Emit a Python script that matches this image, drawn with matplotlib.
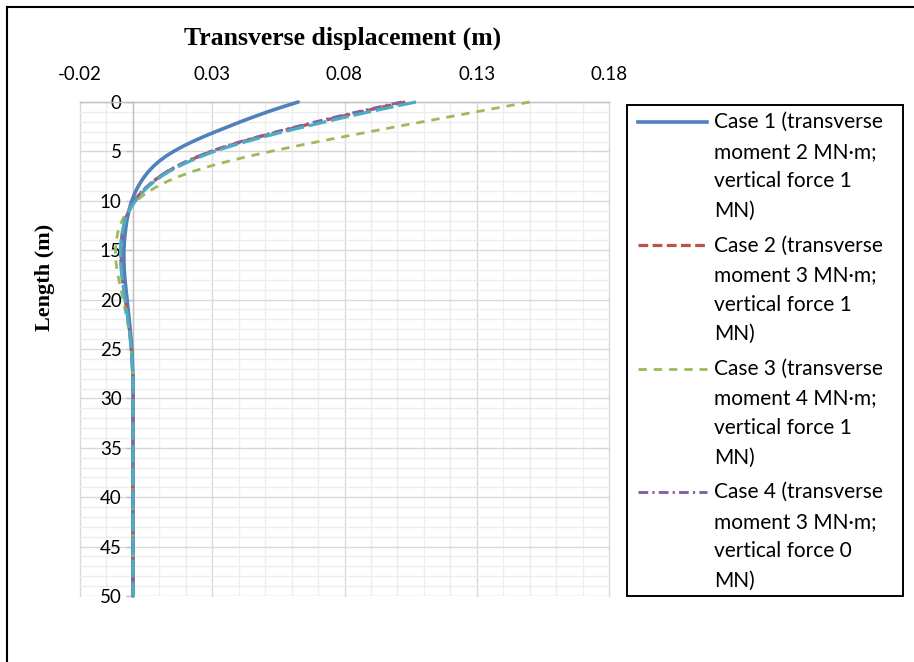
import matplotlib
matplotlib.use("Agg")
import numpy as np
import matplotlib.pyplot as plt
from matplotlib.lines import Line2D
from matplotlib.patches import Rectangle
from matplotlib.ticker import FixedLocator, MultipleLocator

plt.rcParams["lines.scale_dashes"] = False

# Depth along the pile (m)
depth = [0, 0.5, 1, 1.5, 2, 2.5, 3, 3.5, 4, 4.5, 5, 5.5, 6, 6.5, 7, 7.5, 8, 8.5, 9, 9.5,
         10, 10.5, 11, 11.5, 12, 13, 14, 15, 16, 17, 18, 19, 20, 22, 24, 26, 28, 30,
         35, 40, 45, 50]

# Transverse displacement (m) for each load case
case1 = [0.0625, 0.0565, 0.0509, 0.0457, 0.0407, 0.0360, 0.0313, 0.0268, 0.0226, 0.0188,
         0.0154, 0.0124, 0.0099, 0.0078, 0.0060, 0.0045, 0.0032, 0.0021, 0.0011, 0.0003,
         -0.0004, -0.0010, -0.0015, -0.0019, -0.0023, -0.0028, -0.0032, -0.0034, -0.0034, -0.0033,
         -0.0030, -0.0026, -0.0022, -0.0014, -0.0007, -0.0002, 0.0, 0.0001,
         0.0, 0.0, 0.0, 0.0]
case2 = [0.1030, 0.0945, 0.0862, 0.0781, 0.0703, 0.0627, 0.0553, 0.0482, 0.0415, 0.0354,
         0.0298, 0.0250, 0.0206, 0.0167, 0.0133, 0.0104, 0.0079, 0.0058, 0.0036, 0.0020,
         0.0007, -0.0005, -0.0015, -0.0023, -0.0030, -0.0038, -0.0043, -0.0046, -0.0045, -0.0043,
         -0.0039, -0.0034, -0.0029, -0.0018, -0.0009, -0.0003, 0.0, 0.0001,
         0.0, 0.0, 0.0, 0.0]
case3 = [0.1500, 0.1398, 0.1297, 0.1196, 0.1096, 0.0996, 0.0897, 0.0799, 0.0703, 0.0610,
         0.0521, 0.0437, 0.0360, 0.0291, 0.0230, 0.0178, 0.0133, 0.0095, 0.0063, 0.0036,
         0.0014, -0.0004, -0.0019, -0.0031, -0.0041, -0.0055, -0.0063, -0.0066, -0.0065, -0.0060,
         -0.0053, -0.0045, -0.0037, -0.0022, -0.0011, -0.0004, 0.0, 0.0001,
         0.0, 0.0, 0.0, 0.0]
case4 = [0.1015, 0.0931, 0.0849, 0.0769, 0.0692, 0.0617, 0.0544, 0.0474, 0.0408, 0.0348,
         0.0293, 0.0246, 0.0203, 0.0165, 0.0131, 0.0102, 0.0077, 0.0056, 0.0035, 0.0019,
         0.0006, -0.0006, -0.0016, -0.0024, -0.0031, -0.0039, -0.0043, -0.0045, -0.0044, -0.0042,
         -0.0038, -0.0033, -0.0028, -0.0017, -0.0008, -0.0003, 0.0, 0.0001,
         0.0, 0.0, 0.0, 0.0]
case5 = [0.1070, 0.0980, 0.0893, 0.0809, 0.0728, 0.0649, 0.0572, 0.0498, 0.0429, 0.0366,
         0.0308, 0.0259, 0.0214, 0.0174, 0.0139, 0.0109, 0.0083, 0.0061, 0.0041, 0.0024,
         0.0010, -0.0003, -0.0014, -0.0023, -0.0030, -0.0039, -0.0045, -0.0047, -0.0046, -0.0044,
         -0.0040, -0.0035, -0.0030, -0.0019, -0.0009, -0.0003, 0.0, 0.0001,
         0.0, 0.0, 0.0, 0.0]

legend_labels = [
    ["Case 1 (transverse", "moment 2 MN\u00b7m;", "vertical force 1", "MN)"],
    ["Case 2 (transverse", "moment 3 MN\u00b7m;", "vertical force 1", "MN)"],
    ["Case 3 (transverse", "moment 4 MN\u00b7m;", "vertical force 1", "MN)"],
    ["Case 4 (transverse", "moment 3 MN\u00b7m;", "vertical force 0", "MN)"],
]

x_ticks = [-0.02, 0.03, 0.08, 0.13, 0.18]
x_tick_labels = ["-0.02", "0.03", "0.08", "0.13", "0.18"]
y_ticks = [0, 5, 10, 15, 20, 25, 30, 35, 40, 45, 50]

# line styles: (color, linewidth, dash pattern)
styles = [
    ("#4F81BD", 2.6, None),
    ("#C0504D", 2.3, (0, (7.0, 3.2))),
    ("#9BBB59", 2.0, (0, (6.0, 5.0))),
    ("#8064A2", 2.1, (0, (7.0, 3.0, 1.6, 3.0))),
    ("#4BACC6", 2.3, (0, (13.0, 3.5))),
]
series = [case1, case2, case3, case4, case5]

W, H = 914, 662
fig = plt.figure(figsize=(W / 100, H / 100), dpi=100)


def fx(px):
    return px / W


def fy(py):
    return 1 - py / H


ax = fig.add_axes([fx(80), fy(596), fx(609) - fx(80), fy(102) - fy(596)])
ax.set_xlim(-0.02, 0.18)
ax.set_ylim(50, 0)

ax.xaxis.set_major_locator(FixedLocator(x_ticks))
ax.xaxis.set_minor_locator(FixedLocator(np.round(np.arange(-0.02, 0.1801, 0.01), 3)))
ax.yaxis.set_major_locator(FixedLocator(y_ticks))
ax.yaxis.set_minor_locator(MultipleLocator(1))
ax.set_xticklabels(x_tick_labels)

ax.grid(which="minor", color="#EDEDED", lw=1.0)
ax.grid(which="major", color="#D9D9D9", lw=1.0)
ax.set_axisbelow(True)
for ln in ax.get_xgridlines() + ax.get_ygridlines():
    ln.set_clip_on(False)

for s in ["right", "bottom"]:
    ax.spines[s].set_visible(False)
ax.spines["left"].set_position(("data", 0))
ax.spines["left"].set_color("#BFBFBF")
ax.spines["left"].set_linewidth(1.0)
ax.spines["top"].set_color("#BFBFBF")
ax.spines["top"].set_linewidth(1.0)

tick_font = "Lato"
ax.xaxis.tick_top()
ax.tick_params(axis="x", which="both", length=0, pad=14, labelsize=13.5)
ax.tick_params(axis="y", which="major", length=5, width=1, color="#BFBFBF",
               direction="out", pad=3, labelsize=13.5)
ax.tick_params(axis="y", which="minor", length=0)
for lab in ax.get_xticklabels() + ax.get_yticklabels():
    lab.set_fontfamily(tick_font)

for vals, (c, lw, ls) in zip(series, styles):
    ax.plot(vals, depth, color=c, lw=lw, linestyle=ls if ls else "-",
            solid_capstyle="round", solid_joinstyle="round", dash_capstyle="butt",
            clip_on=False, zorder=3)

# axis titles
fig.text(fx(343), fy(38), "Transverse displacement (m)", ha="center", va="center",
         fontfamily="Liberation Serif", fontweight="bold", fontsize=18.5)
fig.text(fx(45), fy(277), "Length (m)", ha="center", va="center", rotation=90,
         fontfamily="Liberation Serif", fontweight="bold", fontsize=16)

# legend box
fig.add_artist(Rectangle((fx(627), fy(596)), fx(903) - fx(627), fy(105) - fy(596),
                         transform=fig.transFigure, facecolor="white",
                         edgecolor="black", lw=1.4))
entry_y0 = 122
line_gap = 29.6
for i, lines in enumerate(legend_labels[: len(styles)]):
    c, lw, ls = styles[i]
    y = entry_y0 + i * 4 * line_gap + i * 5
    fig.add_artist(Line2D([fx(638), fx(707)], [fy(y), fy(y)], transform=fig.transFigure,
                          color=c, lw=lw, linestyle=ls if ls else "-"))
    for j, t in enumerate(lines):
        fig.text(fx(714), fy(y + j * line_gap), t, ha="left", va="center",
                 fontfamily="Lato", fontsize=15)

# outer frame
fig.add_artist(Line2D([fx(7), fx(7)], [fy(7), 0], transform=fig.transFigure, color="black", lw=1.5))
fig.add_artist(Line2D([fx(7), 1], [fy(7), fy(7)], transform=fig.transFigure, color="black", lw=1.5))

fig.savefig("out.png", dpi=100)
